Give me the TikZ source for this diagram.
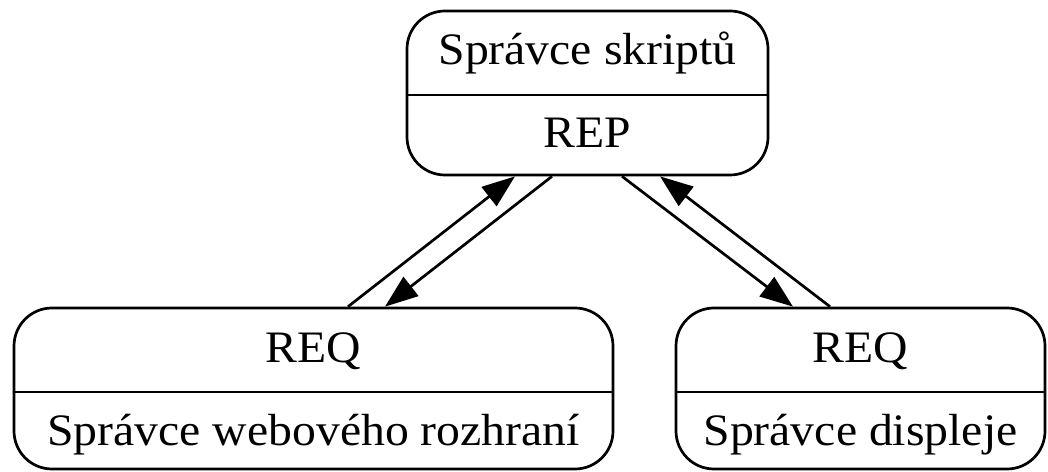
\documentclass[tikz,border=0pt]{standalone}
\usepackage{fontspec}
\setmainfont{Liberation Serif}[FakeStretch=1.06]
\usetikzlibrary{arrows.meta}
\begin{document}
\begin{tikzpicture}[x=1pt,y=1pt,
  rec/.style={draw,line width=2.7pt,rounded corners=38pt,inner sep=0pt},
  lbl/.style={anchor=base,inner sep=0pt,font=\fontsize{45pt}{54pt}\selectfont},
  div/.style={line width=2.7pt},
  edge/.style={line width=2.7pt,-{Triangle[length=33pt,width=24pt]}}]
\useasboundingbox (0,0) rectangle (1048,471);
% boxes
\node[rec,minimum width=361pt,minimum height=164pt] (t) at (587.5,378) {};
\node[rec,minimum width=599pt,minimum height=161pt] (l) at (313.5,82.5) {};
\node[rec,minimum width=369pt,minimum height=161pt] (r) at (860.5,82.5) {};
% dividers
\draw[div] (t.west |- 0,376) -- (t.east |- 0,376);
\draw[div] (l.west |- 0,79) -- (l.east |- 0,79);
\draw[div] (r.west |- 0,79) -- (r.east |- 0,79);
% labels
\node[lbl] (t1) at (587.5,406) {Správce skriptů};
\node[lbl] (t2) at (587.5,323) {REP};
\node[lbl] (l1) at (313.5,108) {REQ};
\node[lbl] (l2) at (313.5,26) {Správce webového rozhraní};
\node[lbl] (r1) at (860.5,108) {REQ};
\node[lbl] (r2) at (860.5,26) {Správce displeje};
% edges
\draw[edge] ([xshift=34.5pt]l.north) -- ([xshift=-72.5pt]t.south);
\draw[edge] ([xshift=-35.5pt]t.south) -- ([xshift=71.5pt]l.north);
\draw[edge] ([xshift=34.5pt]t.south) -- ([xshift=-67.5pt]r.north);
\draw[edge] ([xshift=-30.5pt]r.north) -- ([xshift=72.5pt]t.south);
\end{tikzpicture}
\end{document}
